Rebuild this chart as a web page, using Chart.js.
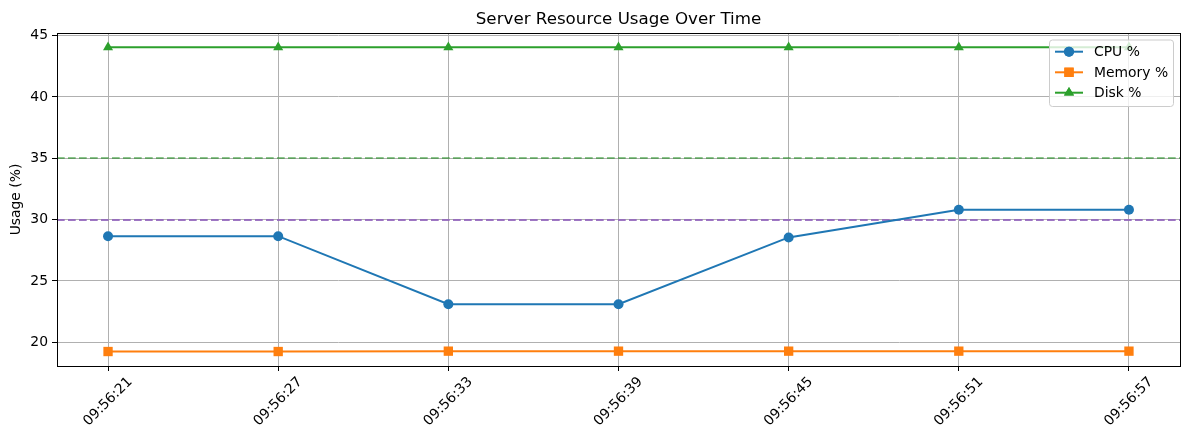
<!DOCTYPE html>
<html>
<head>
<meta charset="utf-8">
<script src="https://cdn.jsdelivr.net/npm/chart.js@4/dist/chart.umd.min.js"></script>
<style>
    html, body { margin: 0; padding: 0; background: #fff; }
    #wrap { width: 1189px; height: 440px; }
</style>
</head>
<body>
<div id="wrap"><canvas id="usageChart" width="1189" height="440"></canvas></div>
<script>
// ---- data ----
const timeLabels = ['09:56:21', '09:56:27', '09:56:33', '09:56:39', '09:56:45', '09:56:51', '09:56:57'];
const cpuValues = [28.65, 28.65, 23.1, 23.1, 28.55, 30.8, 30.8];
const memoryValues = [19.25, 19.25, 19.28, 19.28, 19.28, 19.28, 19.28];
const diskValues = [44.05, 44.05, 44.05, 44.05, 44.05, 44.05, 44.05];
const yTicks = [20, 25, 30, 35, 40, 45];
const thresholds = [
    { value: 35, color: 'rgba(0,128,0,0.45)' },
    { value: 30, color: 'rgba(148,103,189,0.9)' },
];

const FONT = '"DejaVu Sans", sans-serif';
const toPoints = arr => arr.map((v, i) => ({ x: i, y: v }));

const seriesDefs = [
    { label: 'CPU %', data: cpuValues, color: '#1f77b4', style: 'circle', radius: 5 },
    { label: 'Memory %', data: memoryValues, color: '#ff7f0e', style: 'rect', radius: 6.6 },
    { label: 'Disk %', data: diskValues, color: '#2ca02c', style: 'triangle', radius: 5.8 },
];

// ---- custom drawing: thresholds, frame, title, labels, legend ----
const decorPlugin = {
    id: 'decor',
    beforeDatasetsDraw(chart) {
        const { ctx, chartArea: a, scales } = chart;
        ctx.save();
        ctx.lineWidth = 2;
        ctx.setLineDash([7.7, 3.3]);
        thresholds.forEach(t => {
            const y = Math.round(scales.y.getPixelForValue(t.value));
            ctx.strokeStyle = t.color;
            ctx.beginPath();
            ctx.moveTo(a.left, y);
            ctx.lineTo(a.right, y);
            ctx.stroke();
        });
        ctx.restore();
    },
    afterDraw(chart) {
        const { ctx, chartArea: a, scales } = chart;
        ctx.save();

        // frame
        ctx.strokeStyle = '#000';
        ctx.lineWidth = 1;
        ctx.strokeRect(Math.round(a.left) + 0.5, Math.round(a.top) + 0.5,
            Math.round(a.right - a.left), Math.round(a.bottom - a.top));

        // title
        ctx.fillStyle = '#000';
        ctx.font = '16.7px ' + FONT;
        ctx.textAlign = 'center';
        ctx.textBaseline = 'alphabetic';
        ctx.fillText('Server Resource Usage Over Time', (a.left + a.right) / 2, 24);

        // y axis label
        ctx.font = '13.9px ' + FONT;
        ctx.save();
        ctx.translate(16.5, (a.top + a.bottom) / 2);
        ctx.rotate(-Math.PI / 2);
        ctx.textBaseline = 'middle';
        ctx.fillText('Usage (%)', 0, 0);
        ctx.restore();

        // rotated x tick labels (centered on tick like matplotlib)
        const h = 13.9 * 0.75;
        timeLabels.forEach((lab, i) => {
            const x = scales.x.getPixelForValue(i);
            const w = ctx.measureText(lab).width;
            const bb = (w + h) / Math.SQRT2;
            ctx.save();
            ctx.translate(x, a.bottom + 10 + bb / 2);
            ctx.rotate(-Math.PI / 4);
            ctx.textAlign = 'center';
            ctx.textBaseline = 'middle';
            ctx.fillText(lab, 0, 0);
            ctx.restore();
        });

        // legend
        const lx = 1049, ly = 39.5, lw = 124, lh = 66.5;
        ctx.fillStyle = 'rgba(255,255,255,0.8)';
        ctx.strokeStyle = '#cccccc';
        ctx.lineWidth = 1;
        ctx.beginPath();
        ctx.roundRect(lx + 0.5, ly + 0.5, lw, lh, 3);
        ctx.fill();
        ctx.stroke();
        const rows = [51.7, 72.3, 92.7];
        seriesDefs.forEach((s, i) => {
            const y = rows[i];
            ctx.strokeStyle = s.color;
            ctx.lineWidth = 2;
            ctx.beginPath();
            ctx.moveTo(1055, y);
            ctx.lineTo(1083, y);
            ctx.stroke();
            ctx.fillStyle = s.color;
            Chart.helpers.drawPoint(ctx, {
                pointStyle: s.style, radius: s.radius, rotation: 0, borderWidth: 0,
            }, 1069, y);
            ctx.fill();
            ctx.fillStyle = '#000';
            ctx.textAlign = 'left';
            ctx.textBaseline = 'middle';
            ctx.font = '13.9px ' + FONT;
            ctx.fillText(s.label, 1094, y + 1);
        });

        ctx.restore();
    },
};

document.addEventListener('DOMContentLoaded', function () {
    const ctx = document.getElementById('usageChart');
    new Chart(ctx, {
        type: 'line',
        data: {
            datasets: seriesDefs.map(s => ({
                label: s.label,
                data: toPoints(s.data),
                borderColor: s.color,
                backgroundColor: s.color,
                borderWidth: 2,
                pointStyle: s.style,
                pointRadius: s.radius,
                pointBorderWidth: 0,
                pointBackgroundColor: s.color,
                tension: 0,
                fill: false,
            })),
        },
        options: {
            responsive: false,
            animation: false,
            devicePixelRatio: 1,
            layout: { padding: { top: 33, right: 9, bottom: 0, left: 0 } },
            plugins: {
                legend: { display: false },
                title: { display: false },
                tooltip: { enabled: false },
            },
            scales: {
                x: {
                    type: 'linear',
                    min: -0.3,
                    max: 6.3,
                    afterBuildTicks: scale => { scale.ticks = timeLabels.map((_, i) => ({ value: i })); },
                    afterFit: scale => { scale.height = 74; },
                    ticks: { display: false },
                    grid: { color: '#b0b0b0', lineWidth: 1, tickColor: '#000', tickLength: 5 },
                    border: { display: true, color: '#000', width: 1 },
                },
                y: {
                    min: 18.07,
                    max: 45.21,
                    afterBuildTicks: scale => { scale.ticks = yTicks.map(v => ({ value: v })); },
                    afterFit: scale => { scale.width = 57; },
                    ticks: {
                        color: '#000',
                        font: { family: FONT, size: 13.9 },
                        padding: 4,
                    },
                    grid: { color: '#b0b0b0', lineWidth: 1, tickColor: '#000', tickLength: 5 },
                    border: { display: true, color: '#000', width: 1 },
                },
            },
        },
        plugins: [decorPlugin],
    });
});
</script>
</body>
</html>
